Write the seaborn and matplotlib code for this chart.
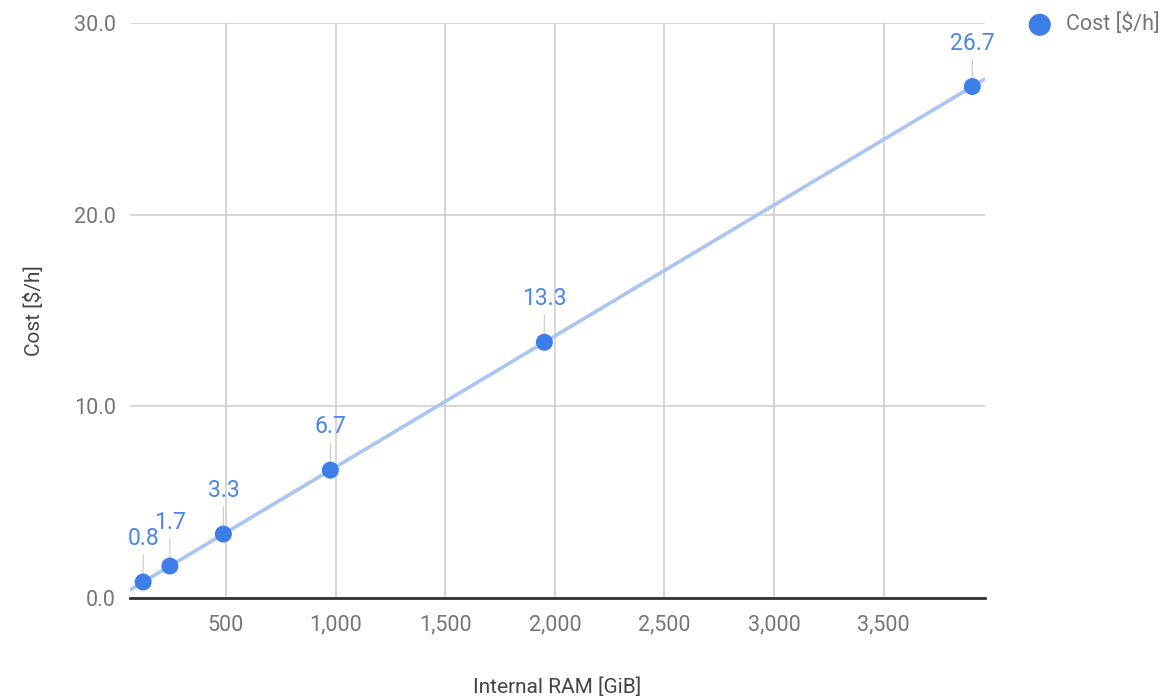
import numpy as np
import pandas as pd
import matplotlib
matplotlib.use("Agg")
import matplotlib.pyplot as plt
from matplotlib.ticker import FuncFormatter
import seaborn as sns

# x1e instance family: memory vs hourly cost
ram_gib = [122, 244, 488, 976, 1952, 3904]
cost_per_hour = [0.834, 1.668, 3.336, 6.672, 13.344, 26.688]
point_labels = ["0.8", "1.7", "3.3", "6.7", "13.3", "26.7"]
x_ticks = [500, 1000, 1500, 2000, 2500, 3000, 3500]
y_ticks = [0, 10, 20, 30]

df = pd.DataFrame({"ram": ram_gib, "cost": cost_per_hour})

sns.set_style("white")
plt.rcParams["font.family"] = ["Roboto", "DejaVu Sans"]

BLUE = "#3d7ee8"
TREND = "#a9c5f3"
GRID = "#cccccc"
TICK = "#757575"

fig = plt.figure(figsize=(11.71, 6.99), dpi=100)
ax = fig.add_axes([0.111, 0.1445, 0.730, 0.8225])

ax.set_xlim(62, 3961)
ax.set_ylim(0, 30)

# trendline across the whole axis range
sns.regplot(data=df, x="ram", y="cost", ax=ax, ci=None, truncate=False,
            scatter=False, line_kws={"color": TREND, "lw": 2.6, "zorder": 2})

sns.scatterplot(data=df, x="ram", y="cost", ax=ax, color=BLUE, s=150,
                edgecolor="none", zorder=4, label="Cost [\\$/h]", legend=False)

for x, y, lab in zip(ram_gib, cost_per_hour, point_labels):
    ax.annotate(lab, xy=(x, y), xytext=(0, 23), textcoords="offset points",
                ha="center", va="bottom", fontsize=16.5, color="#4a86e8",
                arrowprops=dict(arrowstyle="-", color="#cfcfcf", lw=0.9,
                                shrinkA=1, shrinkB=6), zorder=3)

ax.set_xticks(x_ticks)
ax.set_yticks(y_ticks)
ax.xaxis.set_major_formatter(FuncFormatter(lambda v, p: f"{int(v):,}"))
ax.yaxis.set_major_formatter(FuncFormatter(lambda v, p: f"{v:.1f}"))
ax.tick_params(axis="both", length=0, labelsize=15.5, labelcolor=TICK)
ax.tick_params(axis="x", pad=12)
ax.tick_params(axis="y", pad=10)

ax.grid(True, color=GRID, lw=1.1)
ax.set_axisbelow(True)
for side in ["left", "right", "top"]:
    ax.spines[side].set_visible(False)
ax.spines["bottom"].set_color("#333333")
ax.spines["bottom"].set_linewidth(2)
ax.spines["bottom"].set_zorder(5)

ax.set_xlabel("Internal RAM [GiB]", fontsize=15, color="#444444", labelpad=30)
ax.set_ylabel("Cost [\\$/h]", fontsize=15, color="#444444", labelpad=22)

handles, labels = ax.get_legend_handles_labels()
leg = fig.legend(handles, labels, loc="upper left", bbox_to_anchor=(0.853, 1.008),
                 frameon=False, fontsize=15.5, markerscale=1.3, handletextpad=0.2,
                 labelcolor=TICK)

fig.savefig("out.png", dpi=100)
